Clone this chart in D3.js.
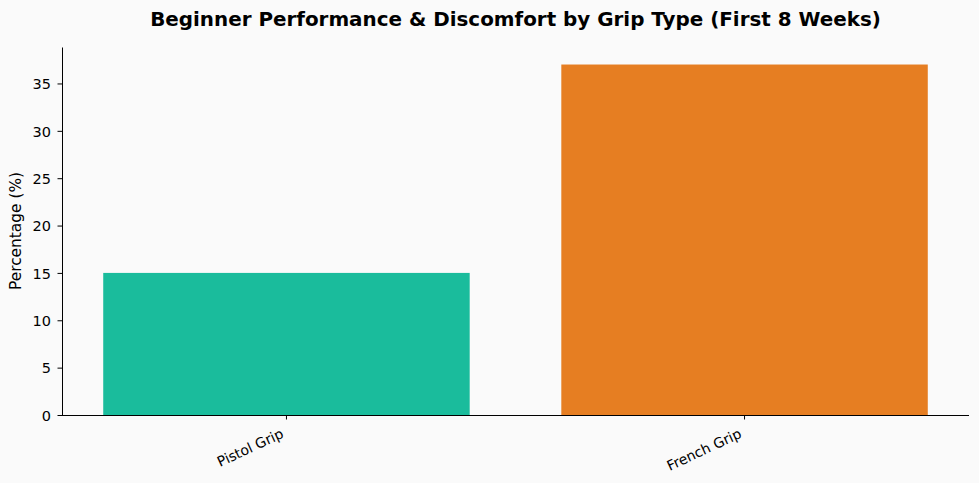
<!DOCTYPE html>
<html><head><meta charset="utf-8">
<script src="https://cdn.jsdelivr.net/npm/d3@7"></script>
<style>body{margin:0;background:#fafafa;}svg{display:block;font-family:"DejaVu Sans",sans-serif;}</style>
</head><body>
<svg id="c" width="979" height="483"></svg>
<script>
const categories = ["Pistol Grip", "French Grip"];
const values = [15, 37];
const colors = ["#1abc9c", "#e67e22"];
const yTicks = [0, 5, 10, 15, 20, 25, 30, 35];

const svg = d3.select("#c");
svg.append("rect").attr("width", 979).attr("height", 483).attr("fill", "#fafafa");
const L = 62, R = 969, T = 47, B = 415;
const x = d3.scaleBand().domain(categories).range([L, R]).paddingInner(0.2).paddingOuter(0.09);
const y = d3.scaleLinear().domain([0, d3.max(values) * 1.05]).range([B, T]);

svg.selectAll("rect.bar").data(values).enter().append("rect")
  .attr("class", "bar")
  .attr("x", (d, i) => x(categories[i]))
  .attr("width", x.bandwidth())
  .attr("y", d => y(d))
  .attr("height", d => B - y(d))
  .attr("fill", (d, i) => colors[i]);

const ya = svg.append("g").attr("transform", `translate(${L},0)`)
  .call(d3.axisLeft(y).tickValues(yTicks).tickSize(4.5).tickPadding(6.5).tickSizeOuter(0));
ya.attr("font-size", null).attr("font-family", null);
ya.selectAll("text").style("font-size", "14.5px").attr("fill", "#000").attr("dy", "0.36em");
ya.selectAll("line,path").attr("stroke", "#000");

const xa = svg.append("g").attr("transform", `translate(0,${B})`)
  .call(d3.axisBottom(x).tickSize(4.5).tickSizeOuter(0));
xa.attr("font-size", null).attr("font-family", null);
xa.select("path").attr("d", `M${L},0.5H${R}`).attr("stroke", "#000");
xa.selectAll("line").attr("stroke", "#000");
xa.selectAll("text").style("font-size", "14px").attr("fill", "#000")
  .attr("text-anchor", "end").attr("dy", null).attr("y", 0)
  .attr("transform", "translate(-2,22) rotate(-25)");

svg.append("text").attr("x", (L + R) / 2).attr("y", 26).attr("text-anchor", "middle")
  .style("font-size", "19.9px").attr("font-weight", "bold").text("Beginner Performance & Discomfort by Grip Type (First 8 Weeks)");
svg.append("text").attr("transform", `translate(21,${(T + B) / 2}) rotate(-90)`).attr("text-anchor", "middle")
  .style("font-size", "15.4px").text("Percentage (%)");
</script>
</body></html>
